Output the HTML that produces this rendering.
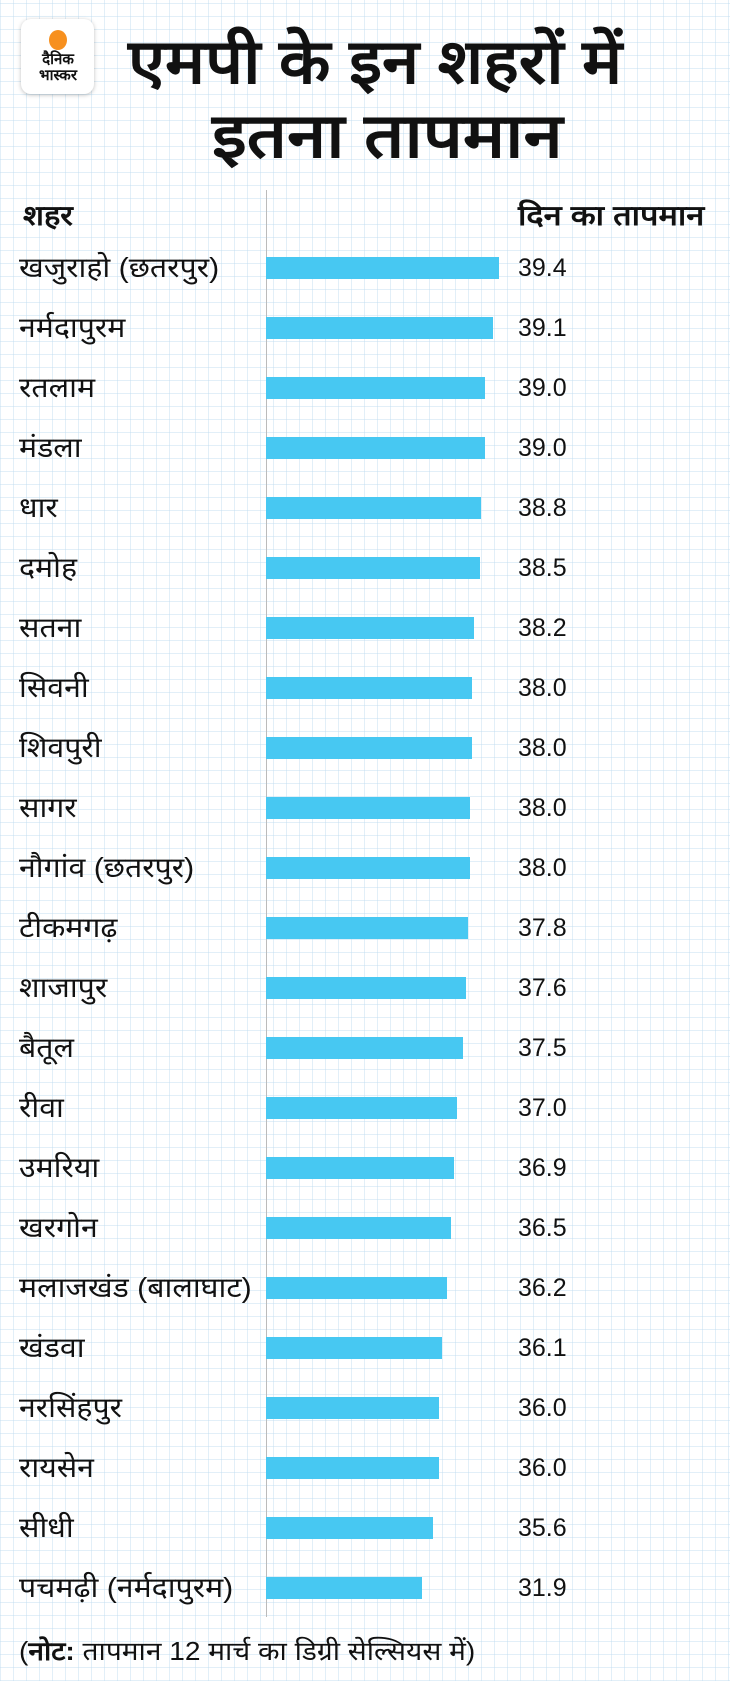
<!DOCTYPE html>
<html><head><meta charset="utf-8"><style>
body{margin:0;width:730px;height:1681px;position:relative;overflow:hidden;background:#fff;
background-image:repeating-linear-gradient(0deg,rgba(190,220,240,.45) 0 1px,transparent 1px 13px),repeating-linear-gradient(90deg,rgba(190,220,240,.45) 0 1px,transparent 1px 13px);
font-family:"Liberation Sans","Noto Sans CJK SC",sans-serif;color:#111}
.a{position:absolute;white-space:nowrap;transform-origin:0 50%}
.l{left:19px;font-size:28px;line-height:30px;transform:scaleX(1.08)}
.v{left:518px;font-size:25px;line-height:30px}
.b{position:absolute;left:266px;height:22px;background:#47c8f2}
</style></head><body>
<div class="a" style="left:21px;top:19px;width:73px;height:75px;background:#fff;border-radius:10px;box-shadow:0 1px 4px rgba(0,0,0,.25)"></div>
<div class="a" style="left:49px;top:30px;width:18px;height:20px;border-radius:50%;background:#f7901e"></div>
<div class="a" style="left:28px;top:52px;font-size:15px;font-weight:bold;line-height:16px;text-align:center;width:60px">दैनिक<br>भास्कर</div>
<div class="a" style="left:128px;top:28px;font-size:62px;font-weight:bold;line-height:70px;transform:scaleX(1.08)">एमपी के इन शहरों में</div>
<div class="a" style="left:212px;top:102px;font-size:62px;font-weight:bold;line-height:70px;transform:scaleX(1.14)">इतना तापमान</div>
<div class="a" style="left:266px;top:190px;width:1px;height:1427px;background:#bbb"></div>
<div class="a" style="left:23px;top:196px;font-size:28px;font-weight:bold;transform:scaleX(1.1)">शहर</div>
<div class="a" style="left:518px;top:196px;font-size:28px;font-weight:bold;transform:scaleX(1.16)">दिन का तापमान</div>
<div id="rows"></div>
<div class="a" style="left:19px;top:1636px;font-size:26px;line-height:30px;transform:scaleX(1.08)">(<b>नोट:</b> तापमान 12 मार्च का डिग्री सेल्सियस में)</div>
<script>
var d=[["खजुराहो (छतरपुर)","39.4",233],["नर्मदापुरम","39.1",227],["रतलाम","39.0",219],["मंडला","39.0",219],["धार","38.8",215],["दमोह","38.5",214],["सतना","38.2",208],["सिवनी","38.0",206],["शिवपुरी","38.0",206],["सागर","38.0",204],["नौगांव (छतरपुर)","38.0",204],["टीकमगढ़","37.8",202],["शाजापुर","37.6",200],["बैतूल","37.5",197],["रीवा","37.0",191],["उमरिया","36.9",188],["खरगोन","36.5",185],["मलाजखंड (बालाघाट)","36.2",181],["खंडवा","36.1",176],["नरसिंहपुर","36.0",173],["रायसेन","36.0",173],["सीधी","35.6",167],["पचमढ़ी (नर्मदापुरम)","31.9",156]];
var h="";d.forEach(function(r,i){var c=268+60*i;
h+='<div class="a l" style="top:'+(c-15)+'px">'+r[0]+'</div><div class="b" style="top:'+(c-11)+'px;width:'+r[2]+'px"></div><div class="a v" style="top:'+(c-15)+'px">'+r[1]+'</div>';});
document.getElementById("rows").innerHTML=h;
</script>
</body></html>
